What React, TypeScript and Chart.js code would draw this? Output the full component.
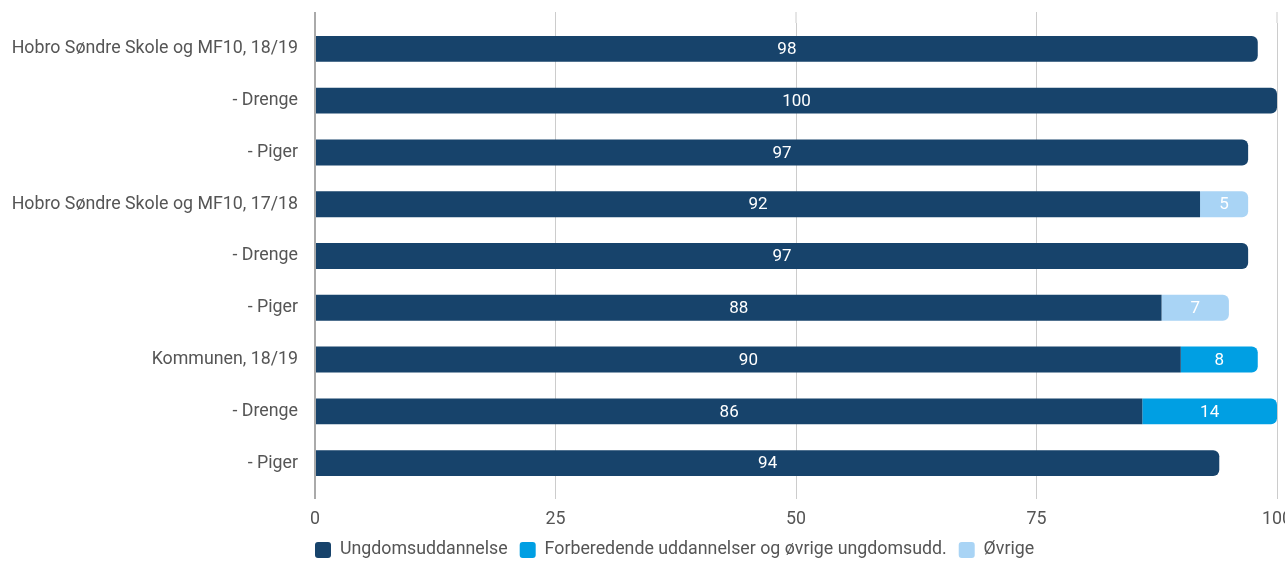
import { useEffect, useRef } from 'react';
import { Chart, registerables } from 'chart.js';

Chart.register(...registerables);

const categories = [
  'Hobro Søndre Skole og MF10, 18/19',
  '- Drenge',
  '- Piger',
  'Hobro Søndre Skole og MF10, 17/18',
  '- Drenge',
  '- Piger',
  'Kommunen, 18/19',
  '- Drenge',
  '- Piger',
];
const ungdomsuddannelse = [98, 100, 97, 92, 97, 88, 90, 86, 94];
const forberedende = [0, 0, 0, 0, 0, 0, 8, 14, 0];
const ovrige = [0, 0, 0, 5, 0, 7, 0, 0, 0];
const seriesNames = [
  'Ungdomsuddannelse',
  'Forberedende uddannelser og øvrige ungdomsudd.',
  'Øvrige',
];
const seriesColors = ['#17436B', '#009FE3', '#A9D4F5'];
const xMin = 0;
const xMax = 100;
const xStep = 25;

const FONT = 'Roboto';

const barLabels = {
  id: 'barLabels',
  afterDatasetsDraw(chart: any) {
    const ctx = chart.ctx;
    ctx.save();
    ctx.font = `17px ${FONT}`;
    ctx.fillStyle = '#ffffff';
    ctx.textAlign = 'center';
    ctx.textBaseline = 'middle';
    chart.data.datasets.forEach((ds: any, di: number) => {
      const meta = chart.getDatasetMeta(di);
      meta.data.forEach((el: any, i: number) => {
        const v = ds.data[i];
        if (!v) return;
        const p = el.getProps(['x', 'y', 'base'], true);
        ctx.fillText(String(v), (p.x + p.base) / 2, p.y + 1);
      });
    });
    ctx.restore();
  },
};

const gridTop = {
  id: 'gridTop',
  beforeDatasetsDraw(chart: any) {
    const ctx = chart.ctx;
    const xs = chart.scales.x;
    const top = chart.chartArea.top;
    ctx.save();
    xs.ticks.forEach((t: any, i: number) => {
      const px = xs.getPixelForValue(t.value);
      ctx.strokeStyle = i === 0 ? '#aaaaaa' : '#cccccc';
      ctx.lineWidth = i === 0 ? 2 : 1;
      ctx.beginPath();
      ctx.moveTo(px, top - 11);
      ctx.lineTo(px, top);
      ctx.stroke();
    });
    ctx.restore();
  },
};

const legendShift = {
  id: 'legendShift',
  afterLayout(chart: any) {
    const lg = chart.legend;
    if (lg) {
      const pad = lg.options.labels.padding;
      const w = lg.right - lg.left;
      lg.left = chart.chartArea.left - pad;
      lg.right = lg.left + w;
    }
  },
};

function lastNonZero(index: number): number {
  const all = [ungdomsuddannelse, forberedende, ovrige];
  let last = -1;
  all.forEach((arr, di) => {
    if (arr[index]) last = di;
  });
  return last;
}

export default function App() {
  const ref = useRef<HTMLCanvasElement | null>(null);

  useEffect(() => {
    document.body.style.margin = '0';
    const canvas = ref.current;
    if (!canvas) return;
    const seriesData = [ungdomsuddannelse, forberedende, ovrige];
    const chart = new Chart(canvas, {
      type: 'bar',
      data: {
        labels: categories,
        datasets: seriesData.map((d, di) => ({
          label: seriesNames[di],
          data: d,
          backgroundColor: seriesColors[di],
          borderWidth: 0,
          borderSkipped: false,
          barPercentage: 0.5,
          categoryPercentage: 1,
          borderRadius: (c: any) =>
            lastNonZero(c.dataIndex) === di
              ? { topLeft: 0, bottomLeft: 0, topRight: 6, bottomRight: 6 }
              : 0,
        })),
      },
      options: {
        indexAxis: 'y',
        responsive: false,
        animation: false,
        layout: { padding: { top: 23, right: 8, left: 0, bottom: 0 } },
        scales: {
          x: {
            stacked: true,
            min: xMin,
            max: xMax,
            ticks: {
              stepSize: xStep,
              color: '#555555',
              font: { family: FONT, size: 17.8 },
              padding: 10,
            },
            grid: {
              color: (c: any) => (c.index === 0 ? '#aaaaaa' : '#cccccc'),
              lineWidth: (c: any) => (c.index === 0 ? 2 : 1),
              tickLength: 10,
              drawTicks: true,
            },
            border: { display: false },
            afterFit: (s: any) => {
              s.paddingLeft = 0;
              s.paddingRight = 0;
              s.height = 40;
            },
          },
          y: {
            stacked: true,
            ticks: {
              color: '#555555',
              font: { family: FONT, size: 17.8 },
              padding: 17,
            },
            grid: { display: false, drawTicks: false },
            border: { display: false },
            afterFit: (s: any) => {
              s.width = 315;
              s.paddingTop = 0;
              s.paddingBottom = 0;
            },
          },
        },
        plugins: {
          tooltip: { enabled: false },
          legend: {
            position: 'bottom',
            align: 'start',
            fullSize: false,
            maxHeight: 32,
            labels: {
              boxWidth: 16,
              boxHeight: 16,
              useBorderRadius: true,
              borderRadius: 3,
              color: '#555555',
              font: { family: FONT, size: 17.8 },
              padding: 12,
            },
          },
        },
      },
      plugins: [barLabels, gridTop, legendShift],
    } as any);
    return () => chart.destroy();
  }, []);

  return <canvas ref={ref} width={1285} height={561} style={{ display: 'block' }} />;
}
